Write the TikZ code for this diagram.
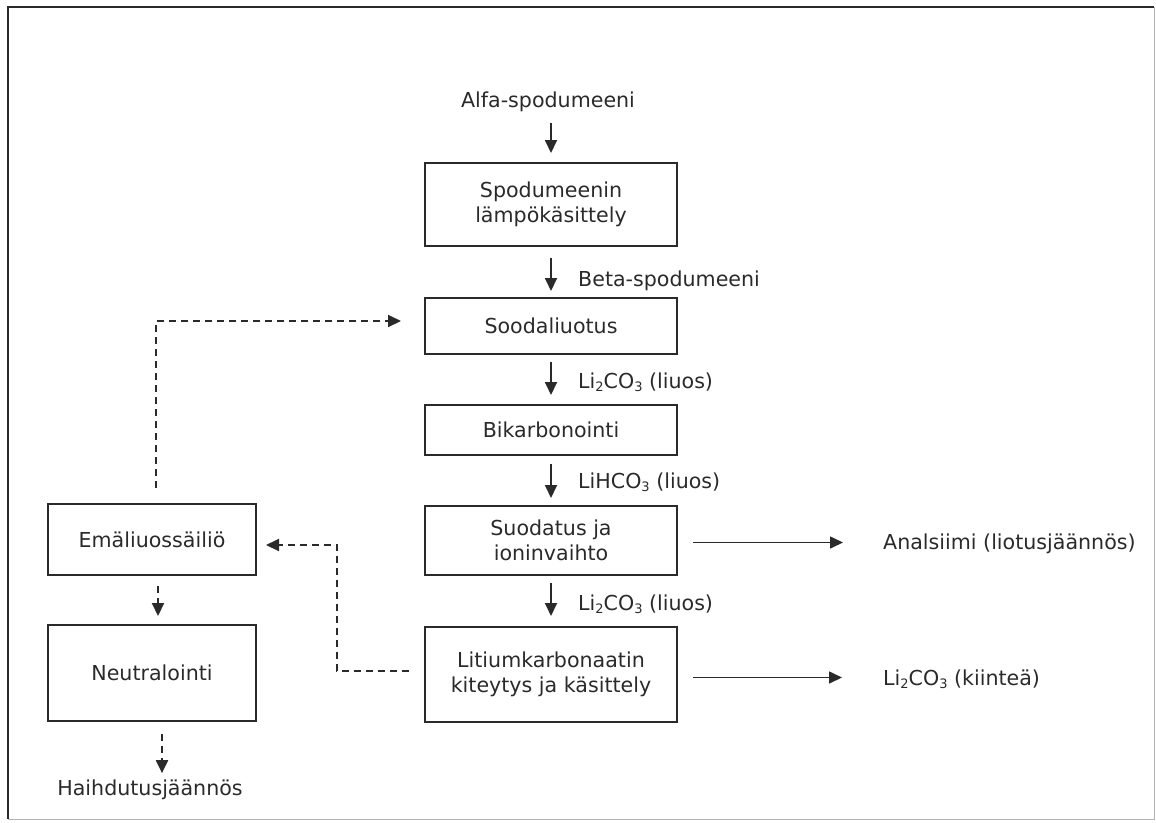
\documentclass[tikz,border=0pt]{standalone}
\usepackage{fontspec}
\setmainfont{DejaVu Sans}
\usetikzlibrary{arrows.meta,calc}
\definecolor{ink}{HTML}{2A2A2A}
\definecolor{txt}{HTML}{2A2A2A}
\newcommand\chsub[1]{\raisebox{-0.3ex}{\fontsize{13}{13}\selectfont #1}}
\tikzset{
  procbox/.style={draw=ink, line width=2pt, rectangle, inner sep=0pt, align=center, text=txt},
  lbl/.style={inner sep=0pt, text=txt},
  flow/.style={draw=ink, line width=1.8pt, -{Triangle[length=13pt,width=12pt]}},
  recyc/.style={draw=ink, line width=2pt, dash pattern=on 7pt off 5pt, -{Triangle[length=13pt,width=12pt]}},
}
\begin{document}
\begin{tikzpicture}[x=1pt,y=-1pt,font=\fontsize{20.6}{25}\selectfont]
\useasboundingbox (0,0) rectangle (1156,822);
% frame
\draw[ink, line width=2pt] (8,819) -- (8,7) -- (1154,7);
\draw[black!30, line width=1pt] (1154,7) -- (1154,819) -- (8,819);

% main column
\node[lbl, anchor=base] (alfa) at (548,107) {Alfa-spodumeeni};
\node[procbox, minimum width=252pt, minimum height=83pt] (b1) at (551,204.5) {Spodumeenin\\lämpökäsittely};
\node[procbox, minimum width=252pt, minimum height=56pt] (b2) at (551,326) {Soodaliuotus};
\node[procbox, minimum width=252pt, minimum height=50pt] (b3) at (551,430) {Bikarbonointi};
\node[procbox, minimum width=252pt, minimum height=69pt] (b4) at (551,540.5) {Suodatus ja\\ioninvaihto};
\node[procbox, minimum width=252pt, minimum height=95pt] (b5) at (551,674.5) {Litiumkarbonaatin\\kiteytys ja käsittely};

% left column
\node[procbox, minimum width=208pt, minimum height=71pt] (emae) at (152,539.5) {Emäliuossäiliö};
\node[procbox, minimum width=208pt, minimum height=96pt] (neut) at (152,673) {Neutralointi};
\node[lbl, anchor=base] (haih) at (150,795) {Haihdutusjäännös};

% right outputs
\node[lbl, anchor=base west] (ana) at (883,549) {Analsiimi (liotusjäännös)};
\node[lbl, anchor=base west] (kiin) at (883,685) {Li\chsub{2}CO\chsub{3} (kiinteä)};

% flow labels
\node[lbl, anchor=base west] (lb1) at (578,286) {Beta-spodumeeni};
\node[lbl, anchor=base west] (lb2) at (578,388) {Li\chsub{2}CO\chsub{3} (liuos)};
\node[lbl, anchor=base west] (lb3) at (578,488) {LiHCO\chsub{3} (liuos)};
\node[lbl, anchor=base west] (lb4) at (578,610) {Li\chsub{2}CO\chsub{3} (liuos)};

% main flow arrows
\draw[flow, shorten <=12pt, shorten >=9pt] (b1.north |- alfa.south) -- (b1.north);
\draw[flow, shorten <=11pt, shorten >=6pt] (b1.south) -- (b2.north);
\draw[flow, shorten <=7pt, shorten >=9pt] (b2.south) -- (b3.north);
\draw[flow, shorten <=8pt, shorten >=7pt] (b3.south) -- (b4.north);
\draw[flow, shorten <=7pt, shorten >=10pt] (b4.south) -- (b5.north);

% outputs
\draw[flow, line width=1.6pt, shorten <=15pt, shorten >=40pt] ([yshift=-2pt]b4.east) -- ([yshift=-2pt]b4.east -| ana.west);
\draw[flow, line width=1.6pt, shorten <=15pt, shorten >=41pt] ([yshift=-3pt]b5.east) -- ([yshift=-3pt]b5.east -| kiin.west);

% recycle (dashed)
\coordinate (k1) at (337,545);
\draw[recyc, shorten <=15pt, shorten >=9pt] ([yshift=4pt]b5.west) -| (k1) -- (k1 -| emae.east);
\draw[recyc, shorten <=15pt, shorten >=23pt] ([xshift=4pt]emae.north) |- ([yshift=5pt]b2.west);
\draw[recyc, shorten <=10pt, shorten >=8pt] ([xshift=6pt]emae.south) -- ([xshift=6pt]neut.north);
\draw[recyc, shorten <=12pt, shorten >=6pt] ([xshift=10pt]neut.south) -- ([xshift=10pt]neut.south |- haih.north);
\end{tikzpicture}
\end{document}
